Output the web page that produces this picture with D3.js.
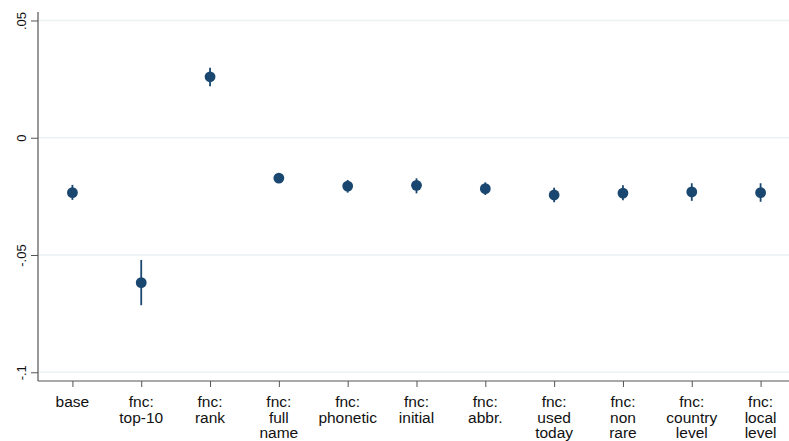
<!DOCTYPE html>
<html>
<head>
<meta charset="utf-8">
<script src="https://cdn.jsdelivr.net/npm/d3@7"></script>
<style>
  html, body { margin: 0; padding: 0; background: #fff; }
  svg { display: block; font-family: "Liberation Sans", Arial, sans-serif; }
</style>
</head>
<body>
<svg id="chart" width="789" height="441"></svg>
<script>
// Specification labels (one entry per column, lines split on "|")
const categories = [
  "base", "fnc:|top-10", "fnc:|rank", "fnc:|full|name", "fnc:|phonetic",
  "fnc:|initial", "fnc:|abbr.", "fnc:|used|today", "fnc:|non|rare",
  "fnc:|country|level", "fnc:|local|level"
];
// Point estimates and confidence bounds
const estimates = [-0.0234, -0.0618, 0.0260, -0.0172, -0.0206, -0.0203, -0.0217, -0.0244, -0.0236, -0.0231, -0.0234];
const lower     = [-0.0265, -0.0714, 0.0220, -0.0185, -0.0234, -0.0237, -0.0244, -0.0275, -0.0266, -0.0269, -0.0273];
const upper     = [-0.0201, -0.0521, 0.0298, -0.0159, -0.0180, -0.0173, -0.0190, -0.0213, -0.0202, -0.0194, -0.0194];
const yTicks = [0.05, 0, -0.05, -0.1];
const yTickLabels = [".05", "0", "-.05", "-.1"];

const svg = d3.select("#chart");
const plotLeft = 38, plotRight = 795, plotTop = 12, plotBottom = 381;
const navy = "#1a476f";

const y = d3.scaleLinear().domain([-0.10372, 0.05362]).range([plotBottom, plotTop]);
const x = d3.scalePoint().domain(d3.range(categories.length)).range([plotLeft, plotRight]).padding(0.5);

// horizontal grid lines
svg.append("g").selectAll("line").data(yTicks).join("line")
  .attr("x1", plotLeft).attr("x2", 789)
  .attr("y1", d => y(d)).attr("y2", d => y(d))
  .attr("stroke", "#eaf2f3").attr("stroke-width", 1.5);

// y axis
const yAxis = svg.append("g").attr("transform", `translate(${plotLeft},0)`)
  .call(d3.axisLeft(y).tickValues(yTicks).tickSize(7).tickFormat((d, i) => yTickLabels[i]));
yAxis.select(".domain").attr("stroke", "#555").attr("stroke-width", 1.2).attr("d", `M0,${plotTop}V${plotBottom}`);
yAxis.selectAll(".tick line").attr("stroke", "#555");
yAxis.selectAll(".tick text")
  .attr("transform", "rotate(-90)")
  .attr("x", 0).attr("y", -12).attr("dy", 0)
  .attr("text-anchor", "middle")
  .attr("font-size", 13).attr("fill", "#111");

// x axis
const xAxis = svg.append("g").attr("transform", `translate(0,${plotBottom})`)
  .call(d3.axisBottom(x).tickSize(6).tickFormat(""));
xAxis.select(".domain").attr("stroke", "#555").attr("stroke-width", 1.2).attr("d", `M${plotLeft},0H789`);
xAxis.selectAll(".tick line").attr("stroke", "#555");

const labels = svg.append("g").selectAll("text").data(categories).join("text")
  .attr("x", (d, i) => x(i)).attr("y", plotBottom + 26)
  .attr("text-anchor", "middle").attr("font-size", 15.5).attr("fill", "#111");
labels.selectAll("tspan").data(d => d.split("|")).join("tspan")
  .attr("x", function() { return d3.select(this.parentNode).attr("x"); })
  .attr("dy", (d, i) => i === 0 ? 0 : 15.5)
  .text(d => d);

// confidence intervals
svg.append("g").selectAll("line").data(estimates).join("line")
  .attr("x1", (d, i) => x(i)).attr("x2", (d, i) => x(i))
  .attr("y1", (d, i) => y(lower[i])).attr("y2", (d, i) => y(upper[i]))
  .attr("stroke", navy).attr("stroke-width", 1.8);

// point estimates
svg.append("g").selectAll("circle").data(estimates).join("circle")
  .attr("cx", (d, i) => x(i)).attr("cy", d => y(d))
  .attr("r", 5.4).attr("fill", navy);
</script>
</body>
</html>
